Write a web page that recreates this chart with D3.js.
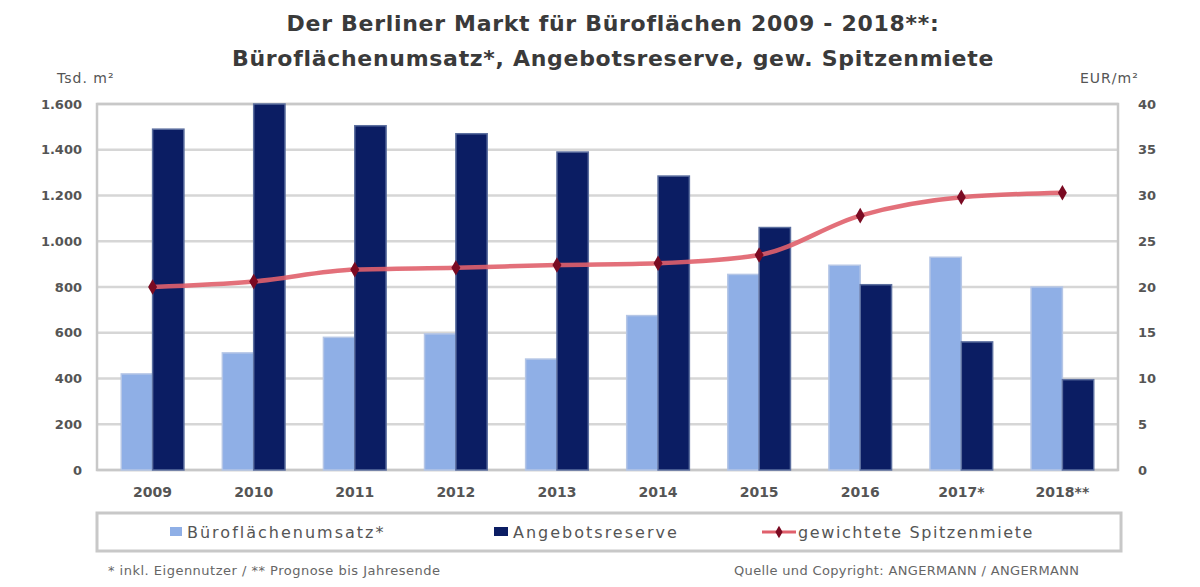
<!DOCTYPE html>
<html>
<head>
<meta charset="utf-8">
<script src="https://cdn.jsdelivr.net/npm/d3@7"></script>
<style>
  body { margin: 0; background: #fff; }
  text { font-family: "DejaVu Sans", Verdana, sans-serif; }
</style>
</head>
<body>
<div id="chart"></div>
<script>
// data
var years = ["2009", "2010", "2011", "2012", "2013", "2014", "2015", "2016", "2017*", "2018**"];
var umsatz = [420, 512, 580, 595, 485, 675, 855, 895, 930, 800];          // Tsd. m²
var reserve = [1490, 1600, 1505, 1470, 1390, 1285, 1060, 810, 560, 395];  // Tsd. m²
var miete = [20.0, 20.6, 21.9, 22.1, 22.4, 22.6, 23.5, 27.8, 29.8, 30.3]; // EUR/m²
var leftTicks = [0, 200, 400, 600, 800, 1000, 1200, 1400, 1600];
var rightTicks = [0, 5, 10, 15, 20, 25, 30, 35, 40];

var svgWidth = 1200;
var svgHeight = 587;

var plot = { left: 97, right: 1118, top: 104, bottom: 470 };

var svg = d3.select("#chart")
    .append("svg")
    .attr("width", svgWidth)
    .attr("height", svgHeight);

// title
var title = svg.append("text")
    .attr("text-anchor", "middle")
    .attr("font-weight", "bold")
    .attr("font-size", 22)
    .attr("letter-spacing", 0.7)
    .attr("fill", "#3a3a3a");
title.append("tspan").attr("x", 613).attr("y", 31).text("Der Berliner Markt für Büroflächen 2009 - 2018**:");
title.append("tspan").attr("x", 613).attr("y", 66).text("Büroflächenumsatz*, Angebotsreserve, gew. Spitzenmiete");

// scales
var x0 = d3.scaleBand()
    .domain(years)
    .range([plot.left, plot.right])
    .paddingInner(0.38)
    .paddingOuter(0.24);

var x1 = d3.scaleBand()
    .domain(["umsatz", "reserve"])
    .range([0, x0.bandwidth()]);

var yLeft = d3.scaleLinear()
    .domain([0, 1600])
    .range([plot.bottom, plot.top]);

var yRight = d3.scaleLinear()
    .domain([0, 40])
    .range([plot.bottom, plot.top]);

// gridlines
svg.append("g")
    .selectAll("line")
    .data(leftTicks)
    .enter()
    .append("line")
    .attr("x1", plot.left)
    .attr("x2", plot.right)
    .attr("y1", d => yLeft(d))
    .attr("y2", d => yLeft(d))
    .attr("stroke", "#d6d6d6")
    .attr("stroke-width", 2.5);

// plot frame
svg.append("rect")
    .attr("x", plot.left)
    .attr("y", plot.top)
    .attr("width", plot.right - plot.left)
    .attr("height", plot.bottom - plot.top)
    .attr("fill", "none")
    .attr("stroke", "#c8c8c8")
    .attr("stroke-width", 2.5);

// axes
var leftAxis = d3.axisLeft(yLeft)
    .tickValues(leftTicks)
    .tickSize(0)
    .tickPadding(15)
    .tickFormat(d => d3.format(",")(d).replace(",", "."));

var rightAxis = d3.axisRight(yRight)
    .tickValues(rightTicks)
    .tickSize(0)
    .tickPadding(20);

var gl = svg.append("g")
    .attr("transform", `translate(${plot.left}, 0)`)
    .call(leftAxis);

var gr = svg.append("g")
    .attr("transform", `translate(${plot.right}, 0)`)
    .call(rightAxis);

var gb = svg.append("g")
    .attr("transform", `translate(0, ${plot.bottom})`)
    .call(d3.axisBottom(x0).tickSize(0).tickPadding(17));

[gl, gr, gb].forEach(g => {
    g.select(".domain").remove();
    g.selectAll("text")
        .attr("font-family", "DejaVu Sans, Verdana, sans-serif")
        .attr("font-size", 13)
        .attr("font-weight", "bold")
        .attr("fill", "#555");
});
gb.selectAll("text").attr("font-size", 14);

// axis units
svg.append("text")
    .attr("x", 57).attr("y", 83)
    .attr("font-size", 14).attr("letter-spacing", 1).attr("fill", "#555")
    .text("Tsd. m²");

svg.append("text")
    .attr("x", 1080).attr("y", 83)
    .attr("font-size", 14).attr("letter-spacing", 1).attr("fill", "#555")
    .text("EUR/m²");

// bars
var groups = svg.append("g")
    .selectAll("g")
    .data(years)
    .enter()
    .append("g")
    .attr("transform", d => `translate(${x0(d)}, 0)`);

groups.append("rect")
    .attr("x", x1("umsatz"))
    .attr("y", (d, i) => yLeft(umsatz[i]))
    .attr("width", x1.bandwidth())
    .attr("height", (d, i) => plot.bottom - yLeft(umsatz[i]))
    .attr("fill", "#8fafe6")
    .attr("stroke", "#b5c6e6")
    .attr("stroke-width", 1.5);

groups.append("rect")
    .attr("x", x1("reserve"))
    .attr("y", (d, i) => yLeft(reserve[i]))
    .attr("width", x1.bandwidth())
    .attr("height", (d, i) => plot.bottom - yLeft(reserve[i]))
    .attr("fill", "#0b1d63")
    .attr("stroke", "#5c6f9f")
    .attr("stroke-width", 1.5);

// rent line
var line = d3.line()
    .x((d, i) => x0(years[i]) + x0.bandwidth() / 2)
    .y(d => yRight(d))
    .curve(d3.curveMonotoneX);

svg.append("path")
    .datum(miete)
    .attr("d", line)
    .attr("fill", "none")
    .attr("stroke", "#e0606c")
    .attr("stroke-width", 4.5)
    .attr("opacity", 0.9);

svg.append("g")
    .selectAll("path")
    .data(miete)
    .enter()
    .append("path")
    .attr("d", d3.symbol().type(d3.symbolDiamond).size(70))
    .attr("transform", (d, i) => `translate(${x0(years[i]) + x0.bandwidth() / 2}, ${yRight(d)})`)
    .attr("fill", "#7a0a22");

// legend
var legend = svg.append("g");
legend.append("rect")
    .attr("x", 97).attr("y", 513)
    .attr("width", 1024).attr("height", 38)
    .attr("fill", "#fff")
    .attr("stroke", "#c8c8c8")
    .attr("stroke-width", 3);

legend.append("rect")
    .attr("x", 170).attr("y", 527)
    .attr("width", 12).attr("height", 9)
    .attr("fill", "#8fafe6");
legend.append("text")
    .attr("x", 187).attr("y", 538)
    .attr("font-size", 16).attr("letter-spacing", 2).attr("fill", "#555")
    .text("Büroflächenumsatz*");

legend.append("rect")
    .attr("x", 494).attr("y", 527)
    .attr("width", 14).attr("height", 9)
    .attr("fill", "#0b1d63");
legend.append("text")
    .attr("x", 513).attr("y", 538)
    .attr("font-size", 16).attr("letter-spacing", 2).attr("fill", "#555")
    .text("Angebotsreserve");

legend.append("line")
    .attr("x1", 762).attr("x2", 796)
    .attr("y1", 532).attr("y2", 532)
    .attr("stroke", "#e0606c")
    .attr("stroke-width", 3);
legend.append("path")
    .attr("d", d3.symbol().type(d3.symbolDiamond).size(45))
    .attr("transform", "translate(779, 532)")
    .attr("fill", "#7a0a22");
legend.append("text")
    .attr("x", 798).attr("y", 538)
    .attr("font-size", 16).attr("letter-spacing", 1.6).attr("fill", "#555")
    .text("gewichtete Spitzenmiete");

// footnotes
svg.append("text")
    .attr("x", 108).attr("y", 575)
    .attr("font-size", 13).attr("fill", "#666")
    .attr("textLength", 332).attr("lengthAdjust", "spacing")
    .text("* inkl. Eigennutzer / ** Prognose bis Jahresende");

svg.append("text")
    .attr("x", 734).attr("y", 575)
    .attr("font-size", 13).attr("fill", "#666")
    .attr("textLength", 345).attr("lengthAdjust", "spacing")
    .text("Quelle und Copyright: ANGERMANN / ANGERMANN");
</script>
</body>
</html>
